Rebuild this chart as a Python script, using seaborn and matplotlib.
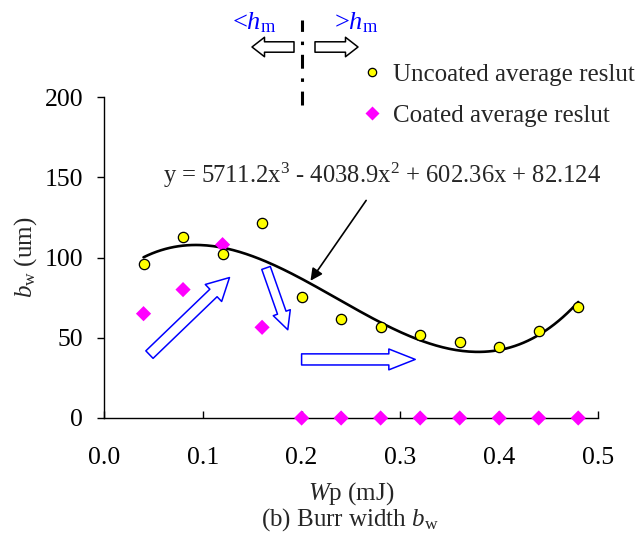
import numpy as np
import pandas as pd
import matplotlib
matplotlib.use("Agg")
import matplotlib.pyplot as plt
import seaborn as sns
from matplotlib.patches import FancyArrowPatch
from matplotlib.lines import Line2D

# Pulse energy values (mJ)
wp = [0.04, 0.08, 0.12, 0.16, 0.20, 0.24, 0.28, 0.32, 0.36, 0.40, 0.44, 0.48]
# Burr width, average results (um)
uncoated = [96, 112.5, 102, 121.5, 75.5, 61.5, 57, 52, 47.5, 44.5, 54.5, 69]
coated = [65, 80, 108, 56.5, 0, 0, 0, 0, 0, 0, 0, 0]
# Cubic fit of the uncoated results
fit_coef = [5711.2, -4038.9, 602.36, 82.124]
x_ticks = [0.0, 0.1, 0.2, 0.3, 0.4, 0.5]
y_ticks = [0, 50, 100, 150, 200]

sns.set_theme(style="white")
plt.rcParams["font.family"] = ["Liberation Serif", "DejaVu Serif"]
plt.rcParams["mathtext.fontset"] = "custom"
plt.rcParams["mathtext.rm"] = "Liberation Serif"
plt.rcParams["mathtext.it"] = "Liberation Serif:italic"
plt.rcParams["lines.scale_dashes"] = False

FS = 18
fig = plt.figure(figsize=(6.38, 5.49), dpi=100)
ax = fig.add_axes([104 / 638, 1 - 418 / 549, 494 / 638, 321 / 549])

df = pd.DataFrame({"wp": wp, "uncoated": uncoated, "coated": coated})
xs = np.linspace(min(wp), max(wp), 200)
fit = pd.DataFrame({"wp": xs, "bw": np.polyval(fit_coef, xs)})

sns.lineplot(data=fit, x="wp", y="bw", color="black", lw=1.9, ax=ax, zorder=3)
sns.scatterplot(data=df, x="wp", y="coated", marker="D", s=60, color="#ff00ff",
                edgecolor="none", ax=ax, zorder=4, clip_on=False)
sns.scatterplot(data=df, x="wp", y="uncoated", marker="o", s=55, color="#ffff00",
                edgecolor="black", linewidth=0.9, ax=ax, zorder=5)

ax.set_xlim(0, 0.5)
ax.set_ylim(0, 200)
ax.set_xticks(x_ticks)
ax.set_xticklabels([f"{t:.1f}" for t in x_ticks])
ax.set_yticks(y_ticks)
ax.set_yticklabels([str(t) for t in y_ticks])
ax.tick_params(axis="x", direction="in", length=5, width=1, colors="black",
               labelsize=FS + 0.5, pad=21, bottom=True)
ax.tick_params(axis="y", direction="out", length=5, width=1, colors="black",
               labelsize=FS + 0.5, pad=10, left=True)
for side in ["top", "right"]:
    ax.spines[side].set_visible(False)
for side in ["left", "bottom"]:
    ax.spines[side].set_color("black")
    ax.spines[side].set_linewidth(1.0)
ax.set_xlabel(r"$W$p (mJ)", fontsize=FS, labelpad=8)
ax.set_ylabel(r"$b_{\mathrm{w}}$ (um)", fontsize=FS, labelpad=4)

# Fit equation with pointer to the curve
ax.annotate(r"y = 5711.2x$^3$ - 4038.9x$^2$ + 602.36x + 82.124",
            xy=(0.209, 85.5), xytext=(0.0595, 151), textcoords="data",
            fontsize=FS - 0.3, ha="left", va="center",
            arrowprops=dict(arrowstyle="-|>", color="black", lw=1.2,
                            mutation_scale=18, shrinkA=6, shrinkB=0,
                            relpos=(0.48, 0.0)))


def block_arrow(p0, p1, tail, head_w, head_l, color, transform):
    """Hollow block arrow between two points; sizes in points."""
    return FancyArrowPatch(p0, p1,
                           arrowstyle=f"simple,head_length={head_l},head_width={head_w},tail_width={tail}",
                           mutation_scale=1, shrinkA=0, shrinkB=0,
                           facecolor="white", edgecolor=color, lw=1.1,
                           clip_on=False, zorder=6, transform=transform)


# Hollow blue trend arrows
ax.add_patch(block_arrow((0.046, 39.5), (0.127, 87.5), 7.5, 17, 16, "#0000ff", ax.transData))
ax.add_patch(block_arrow((0.164, 93.5), (0.186, 55), 6.5, 13, 13, "#0000ff", ax.transData))
ax.add_patch(block_arrow((0.2, 36.5), (0.315, 36.5), 8, 15, 19, "#0000ff", ax.transData))

# Critical energy marker above the plot
ax.plot([0.2, 0.2], [195, 248], color="black", lw=2.2, clip_on=False,
        dashes=(10, 7, 2.5, 7), zorder=6)
fig.patches.append(block_arrow((294 / 638, 502 / 549), (252 / 638, 502 / 549),
                               7.5, 14, 9, "black", fig.transFigure))
fig.patches.append(block_arrow((315 / 638, 502 / 549), (358 / 638, 502 / 549),
                               7.5, 14, 9, "black", fig.transFigure))
fig.text(254 / 638, 1 - 23 / 549, r"<$h_{\mathrm{m}}$", color="#0000ff", fontsize=FS + 1,
         ha="center", va="center")
fig.text(356 / 638, 1 - 23 / 549, r">$h_{\mathrm{m}}$", color="#0000ff", fontsize=FS + 1,
         ha="center", va="center")

# Legend
handles = [
    Line2D([], [], ls="none", marker="o", ms=6, mfc="#ffff00", mec="black", mew=0.9,
           label="Uncoated average reslut"),
    Line2D([], [], ls="none", marker="D", ms=7, mfc="#ff00ff", mec="none",
           label="Coated average reslut"),
]
fig.legend(handles=handles, loc="upper left", bbox_to_anchor=(364 / 638, 1 - 63 / 549),
           frameon=False, fontsize=FS, handlelength=0.6, handletextpad=0.55,
           labelspacing=0.75, borderaxespad=0, borderpad=0)

fig.text(350 / 638, 1 - 520 / 549, r"(b) Burr width $b_{\mathrm{w}}$", fontsize=FS,
         ha="center", va="center")

fig.savefig("out.png", dpi=100, facecolor="white")
